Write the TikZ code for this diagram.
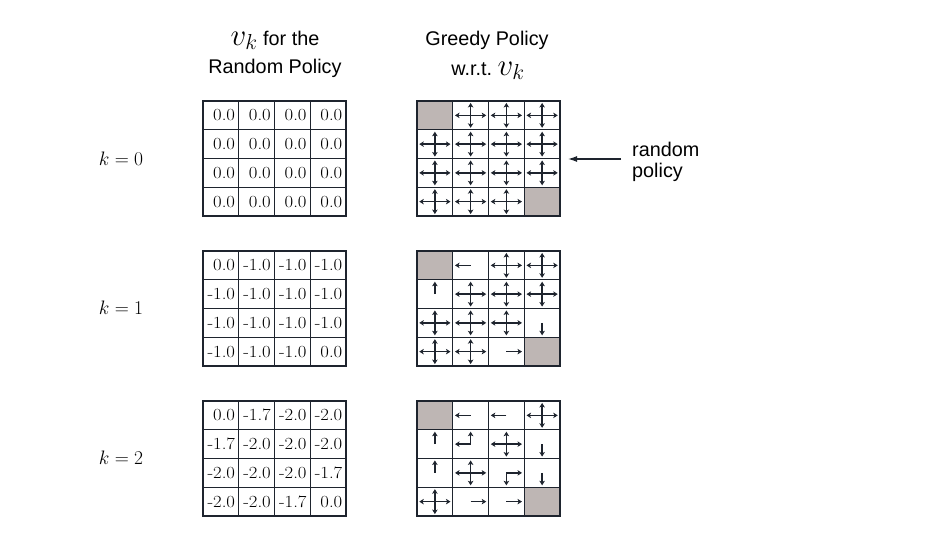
\documentclass[tikz,border=0pt]{standalone}
\usepackage{fix-cm}
\usepackage{fontspec}
\usepackage{xstring}
\newfontfamily\hv{Liberation Sans}
\usetikzlibrary{arrows.meta}
\definecolor{gridc}{RGB}{30,36,46}
\definecolor{termc}{RGB}{190,182,180}
\newcommand\cw{35.75}
\newcommand\ch{28.75}
\newcommand\gridlinesat[2]{%
  \foreach \i in {0,...,4} {
    \draw[gridline] ({#1+\i*\cw},#2) -- ++(0,115);
    \draw[gridline] (#1,{#2+\i*\ch}) -- ++(143,0);
  }}
\newcommand\valgrid[3]{%
  \foreach \row [count=\r from 0] in {#3} {
    \foreach \v [count=\c from 0] in \row {
      \node[val] (v-#1-#2-\r-\c) at ({203+(\c+1)*\cw-3.5},{#2+(\r+0.5)*\ch}) {\scalebox{1.1}[1]{\v}};
    }
  }
  \gridlinesat{203}{#2}}
\newcommand\polgrid[2]{%
  \foreach \row [count=\r from 0] in {#2} {
    \foreach \cd [count=\c from 0] in \row {
      \pgfmathsetmacro\cx{417+(\c+0.5)*\cw}
      \pgfmathsetmacro\cy{#1+(\r+0.5)*\ch}
      \IfSubStr{\cd}{t}{\fill[termc] ({\cx-\cw/2},{\cy-\ch/2}) rectangle ++(\cw,\ch);}{}
      \IfSubStr{\cd}{u}{\draw[parr] (\cx,\cy) -- ++(0,-12.4);}{}
      \IfSubStr{\cd}{d}{\draw[parr] (\cx,\cy) -- ++(0,12.4);}{}
      \IfSubStr{\cd}{l}{\draw[parr] (\cx,\cy) -- ++(-15.6,0);}{}
      \IfSubStr{\cd}{r}{\draw[parr] (\cx,\cy) -- ++(15.6,0);}{}
    }
  }
  \gridlinesat{417}{#1}}
\begin{document}
\begin{tikzpicture}[x=1pt,y=-1pt,
  gridline/.style={draw=gridc,line width=1.4pt,line cap=rect},
  parr/.style={line width=1.3pt,draw=gridc,-{Stealth[length=4.5pt,width=5.5pt,inset=1.2pt]}},
  val/.style={anchor=east,inner sep=0pt,font=\fontsize{17}{17}\selectfont},
  sanslbl/.style={font=\hv\fontsize{19.8}{22}\selectfont,inner sep=0pt},
  klbl/.style={font=\fontsize{19.5}{19.5}\selectfont,inner sep=0pt}]
\useasboundingbox (0,0) rectangle (950,546);
\fill[white] (0,0) rectangle (950,546);
% headers
\node[sanslbl,anchor=base] (h1a) at (275,45) {{\fontsize{31}{31}\selectfont$v_k$}\ for the};
\node[sanslbl,anchor=base] (h1b) at (275,73) {Random Policy};
\node[sanslbl,anchor=base] (h2a) at (487,45) {Greedy Policy};
\node[sanslbl,anchor=base] (h2b) at (488,75) {w.r.t.\ {\fontsize{31}{31}\selectfont$v_k$}};
% k labels
\node[klbl] (k0) at (121,159) {$k=0$};
\node[klbl] (k1) at (121,308) {$k=1$};
\node[klbl] (k2) at (121,458) {$k=2$};
% value grids
\valgrid{0}{101}{{0.0,0.0,0.0,0.0},{0.0,0.0,0.0,0.0},{0.0,0.0,0.0,0.0},{0.0,0.0,0.0,0.0}}
\valgrid{1}{251}{{0.0,-1.0,-1.0,-1.0},{-1.0,-1.0,-1.0,-1.0},{-1.0,-1.0,-1.0,-1.0},{-1.0,-1.0,-1.0,0.0}}
\valgrid{2}{401}{{0.0,-1.7,-2.0,-2.0},{-1.7,-2.0,-2.0,-2.0},{-2.0,-2.0,-2.0,-1.7},{-2.0,-2.0,-1.7,0.0}}
% policy grids
\polgrid{101}{{t,udlr,udlr,udlr},{udlr,udlr,udlr,udlr},{udlr,udlr,udlr,udlr},{udlr,udlr,udlr,t}}
\polgrid{251}{{t,l,udlr,udlr},{u,udlr,udlr,udlr},{udlr,udlr,udlr,d},{udlr,udlr,r,t}}
\polgrid{401}{{t,l,l,udlr},{u,ul,udlr,d},{u,udlr,dr,d},{udlr,r,r,t}}
% random policy label
\node[sanslbl,anchor=base west] (rp1) at (632,156) {random};
\node[sanslbl,anchor=base west] (rp2) at (632,177) {policy};
\coordinate (rptail) at (621,159);
\coordinate (rptip) at (568,159);
\draw[line width=1.3pt,draw=gridc,-{Latex[length=9pt,width=6pt]}] (rptail) -- (rptip);
\end{tikzpicture}
\end{document}
